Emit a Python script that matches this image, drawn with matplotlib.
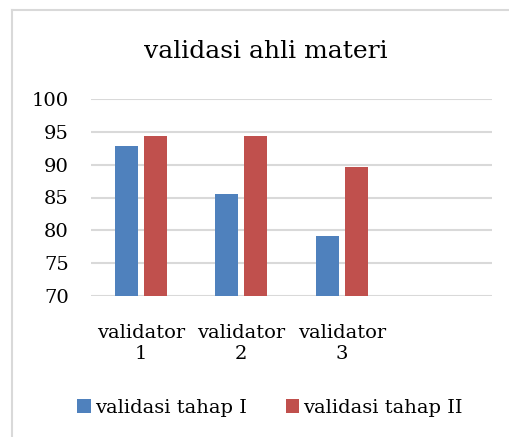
import numpy as np
import matplotlib.pyplot as plt
from matplotlib.lines import Line2D

plt.rcParams['font.family'] = 'DejaVu Serif'

# data
categories = ["validator\n1", "validator\n2", "validator\n3"]
tahap_1 = [92.9, 85.6, 79.2]
tahap_2 = [94.4, 94.4, 89.7]
y_ticks = [70, 75, 80, 85, 90, 95, 100]

blue = "#4F81BD"
red = "#C0504D"

W, H = 509, 437
fig = plt.figure(figsize=(W / 100, H / 100), dpi=100)

# light grey frame (only left and top edges fall inside the crop)
fig.add_artist(Line2D([12 / W, 12 / W], [-0.1, 1 - 10 / H], transform=fig.transFigure,
                      color="#d9d9d9", lw=1.5))
fig.add_artist(Line2D([12 / W, 1.1], [1 - 10 / H, 1 - 10 / H], transform=fig.transFigure,
                      color="#d9d9d9", lw=1.5))

ax = fig.add_axes([91 / W, 1 - 296 / H, 401 / W, 197 / H])

x = np.arange(len(categories))
w = 0.23
ax.bar(x - 0.145, tahap_1, width=w, bottom=0, color=blue, label="validasi tahap I", zorder=3)
ax.bar(x + 0.145, tahap_2, width=w, bottom=0, color=red, label="validasi tahap II", zorder=3)

ax.set_ylim(70, 100)
ax.set_xlim(-0.5, 3.5)
ax.set_yticks(y_ticks)
ax.set_yticklabels([str(v) for v in y_ticks], fontsize=14)
ax.set_xticks(x)
ax.set_xticklabels(categories, fontsize=14, linespacing=1.25)
ax.tick_params(axis="both", length=0)
ax.tick_params(axis="y", pad=16)
ax.tick_params(axis="x", pad=20)
ax.yaxis.grid(True, color="#d9d9d9", lw=1.5, zorder=0)
for s in ax.spines.values():
    s.set_visible(False)

fig.text(266 / W, 1 - 52 / H, "validasi ahli materi", fontsize=18,
         ha="center", va="center")

fig.legend(loc="center", bbox_to_anchor=(270 / W, 1 - 408 / H), ncol=2,
           frameon=False, fontsize=14, handlelength=0.7, handleheight=0.7,
           handletextpad=0.2, columnspacing=2.0)

fig.savefig("out.png", dpi=100)
